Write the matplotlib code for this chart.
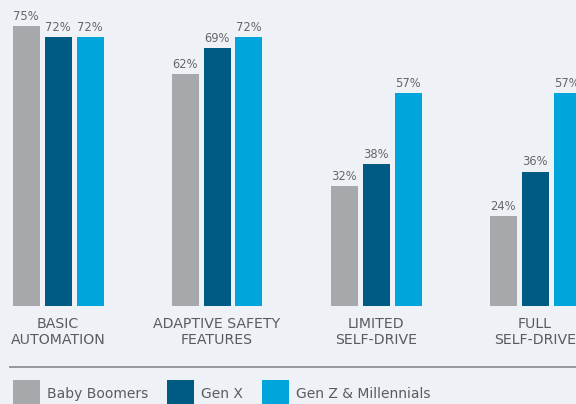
import numpy as np
import matplotlib
matplotlib.use("Agg")
import matplotlib.pyplot as plt
from matplotlib.patches import Patch
from matplotlib.lines import Line2D

plt.rcParams['font.family'] = ['DejaVu Sans']

categories = ["BASIC\nAUTOMATION", "ADAPTIVE SAFETY\nFEATURES", "LIMITED\nSELF-DRIVE", "FULL\nSELF-DRIVE"]
series = ["Baby Boomers", "Gen X", "Gen Z & Millennials"]
boomers = [75, 62, 32, 24]
gen_x = [72, 69, 38, 36]
gen_z = [72, 72, 57, 57]
values = [boomers, gen_x, gen_z]
colors = ["#a7a8ab", "#005b84", "#00a5db"]

bg = "#eef2f7"
txt = "#5a5b5d"

fig = plt.figure(figsize=(5.76, 4.04), dpi=100, facecolor=bg)
ax = fig.add_axes([0, (404 - 306) / 404, 1, 306 / 404])
ax.set_facecolor(bg)

x = np.arange(len(categories))
width = 27 / 159
step = 32 / 159
for k, (vals, col) in enumerate(zip(values, colors)):
    pos = x + (k - 1) * step
    ax.bar(pos, vals, width=width, color=col, label=series[k])
    for p, v in zip(pos, vals):
        ax.text(p, v + 0.9, f"{v}%", ha="center", va="bottom", fontsize=8.3,
                color="#646567", clip_on=False)

ax.set_xlim(-58 / 159, (576 - 58) / 159)
ax.set_ylim(0, 306 / 3.735)
ax.axis("off")

for xi, cat in zip(x, categories):
    ax.text(xi, -2.9, cat, ha="center", va="top", fontsize=10.2, color=txt,
            linespacing=1.2, clip_on=False)

fig.add_artist(Line2D([10 / 576, 1], [(404 - 367) / 404] * 2, color="#8f9092", lw=1.3))

handles = [Patch(facecolor=c, edgecolor="none") for c in colors]
fig.legend(handles, series, loc="upper left", bbox_to_anchor=(13 / 576, (404 - 380) / 404),
           ncol=3, frameon=False, fontsize=10, labelcolor=txt, handlelength=1.95,
           handleheight=2.6, handletextpad=0.5, columnspacing=1.35, borderpad=0,
           borderaxespad=0)

fig.savefig("out.png", dpi=100, facecolor=bg)
